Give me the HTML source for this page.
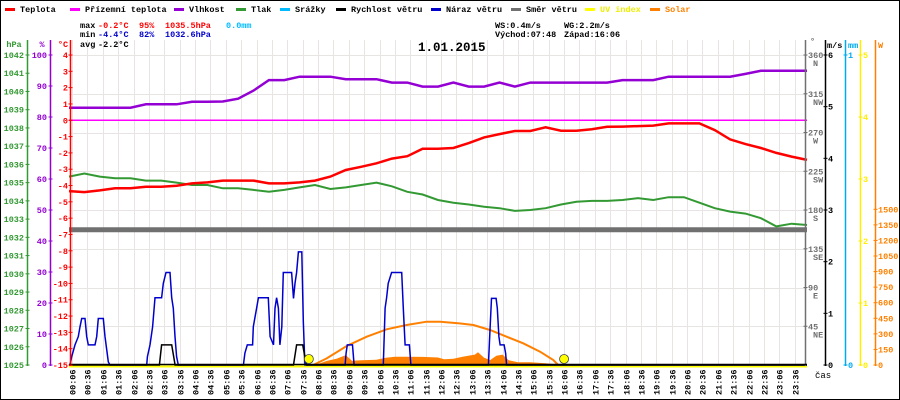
<!DOCTYPE html>
<html><head><meta charset="utf-8"><style>
html,body{margin:0;padding:0;background:#fff;}
svg{display:block;}
text{font-family:"Liberation Mono",monospace;}
</style></head><body>
<svg id="c" width="900" height="400" viewBox="0 0 900 400" xmlns="http://www.w3.org/2000/svg">
<rect x="0.5" y="0.5" width="899" height="399" fill="#fff" stroke="#000"/>
<g id="grid"></g>
<g id="series"></g>
<g id="axes"></g>
<g id="legend" font-size="8.5" font-weight="bold"></g>
<g font-size="8.5" font-weight="bold">
<text x="80" y="28" fill="#000">max</text><text x="98" y="28" fill="#f00">-0.2°C</text><text x="139" y="28" fill="#f00">95%</text><text x="165" y="28" fill="#f00">1035.5hPa</text><text x="226" y="28" fill="#0bf">0.0mm</text>
<text x="80" y="37" fill="#000">min</text><text x="98" y="37" fill="#00c">-4.4°C</text><text x="139" y="37" fill="#00c">82%</text><text x="165" y="37" fill="#00c">1032.6hPa</text>
<text x="80" y="47" fill="#000">avg</text><text x="98" y="47" fill="#000">-2.2°C</text>
<text x="495" y="28" fill="#000">WS:0.4m/s</text><text x="564" y="28" fill="#000">WG:2.2m/s</text>
<text x="495" y="37" fill="#000">Východ:07:48</text><text x="564" y="37" fill="#000">Západ:16:06</text>
</g>
<text x="418" y="51" font-size="12.5" font-weight="bold" fill="#000">1.01.2015</text>
<text x="815" y="378" font-size="9" fill="#000">čas</text>
</svg>
<script>
// half-hour series t = 0..24
const halfHours = [];
for (let i = 0; i <= 48; i++) halfHours.push(i / 2);
const temperature = [-4.34,-4.4,-4.3,-4.17,-4.17,-4.07,-4.07,-4.01,-3.87,-3.81,-3.7,-3.7,-3.7,-3.87,-3.87,-3.81,-3.7,-3.45,-3.05,-2.85,-2.64,-2.35,-2.2,-1.74,-1.74,-1.7,-1.4,-1.05,-0.85,-0.66,-0.66,-0.43,-0.64,-0.64,-0.55,-0.4,-0.39,-0.36,-0.33,-0.19,-0.19,-0.19,-0.6,-1.17,-1.46,-1.7,-2.0,-2.23,-2.43];
const apparentTemp = [0,0,0,0,0,0,0,0,0,0,0,0,0,0,0,0,0,0,0,0,0,0,0,0,0,0,0,0,0,0,0,0,0,0,0,0,0,0,0,0,0,0,0,0,0,0,0,0,0];
const humidity = [83,83,83,83,83,84.1,84.1,84.1,84.9,84.9,85,85.9,88.5,91.9,91.9,93,93,93,92.2,92.2,92.2,91.1,91.1,89.8,89.8,91.1,89.8,89.8,91.1,89.8,91.1,91.1,91.1,91.1,91.1,91.1,91.9,91.9,91.9,93,93,93,93,93,93.9,94.9,94.9,94.9,94.9];
const pressure = [1035.33,1035.5,1035.33,1035.24,1035.24,1035.11,1035.11,1035.0,1034.87,1034.87,1034.69,1034.69,1034.6,1034.5,1034.6,1034.74,1034.87,1034.65,1034.74,1034.87,1035.0,1034.8,1034.5,1034.35,1034.05,1033.9,1033.8,1033.68,1033.6,1033.45,1033.5,1033.6,1033.8,1033.95,1034.0,1034.0,1034.05,1034.15,1034.05,1034.2,1034.2,1033.9,1033.6,1033.41,1033.3,1033.05,1032.6,1032.75,1032.68];
const windDir = [157,157,157,157,157,157,157,157,157,157,157,157,157,157,157,157,157,157,157,157,157,157,157,157,157,157,157,157,157,157,157,157,157,157,157,157,157,157,157,157,157,157,157,157,157,157,157,157,157];
const gustTimes = [0,0.033,0.087,0.195,0.304,0.358,0.412,0.52,0.575,0.629,0.846,0.9,0.954,1.117,1.171,1.225,1.279,1.333,2.526,2.548,2.634,2.72,2.797,3.013,3.068,3.154,3.285,3.339,3.393,3.447,3.5,3.556,5.67,5.72,5.8,5.97,5.995,6.1,6.16,6.48,6.54,6.65,6.7,6.75,6.81,6.86,6.92,6.97,7.24,7.3,7.35,7.4,7.46,7.57,7.62,7.67,8.98,9.01,9.05,9.22,9.27,10.22,10.28,10.33,10.38,10.49,10.82,10.87,10.93,11.07,11.12,13.64,13.69,13.74,13.89,13.93,13.98,14.02,14.15,14.2,14.23,24];
const gustValues = [0,0,0.16,0.39,0.55,0.74,0.9,0.9,0.55,0.39,0.39,0.55,0.9,0.9,0.55,0.3,0.06,0,0,0.16,0.39,0.74,1.3,1.3,1.58,1.79,1.79,1.3,1.1,0.55,0.16,0,0,0.23,0.39,0.39,0.74,1.1,1.3,1.3,0.55,0.39,1.1,1.3,1.1,0.39,0.74,1.79,1.79,1.29,1.58,1.79,2.19,2.19,0.85,0,0,0.23,0.39,0.39,0,0,1.1,1.3,1.58,1.79,1.79,1.1,0.39,0.39,0,0,0.68,1.29,1.29,1.1,0.55,0.39,0.39,0.23,0,0];
const speedTimes = [0,2.94,3.01,3.34,3.45,7.3,7.4,7.6,7.67,7.73,24];
const speedValues = [0,0,0.39,0.39,0,0,0.39,0.39,0.16,0,0];
const solarTimes = [7.9,8.1,8.4,8.7,9.0,9.2,9.5,10.0,10.3,10.6,11.0,11.5,12.0,12.2,12.5,12.8,13.2,13.3,13.5,13.7,13.9,14.1,14.3,14.6,15.0,15.5,15.9,16.0];
const solarValues = [0,10,40,60,95,40,45,50,70,80,80,78,72,55,60,80,100,122,70,48,90,100,45,26,26,16,5,0];
const solarMaxTimes = [7.8,7.94,8.38,9.03,9.68,10.33,10.98,11.63,12.07,12.7,13.15,13.69,14.23,14.77,15.32,15.75,15.91,16.1];
const solarMaxValues = [0,0,64,183,273,344,385,417,417,401,385,337,273,209,128,48,0,0];
const uvValues = [0,0,0,0,0,0,0,0,0,0,0,0,0,0,0,0,0,0,0,0,0,0,0,0,0,0,0,0,0,0,0,0,0,0,0,0,0,0,0,0,0,0,0,0,0,0,0,0,0];
const sunEvents = [7.8, 16.1];
const tickLabels = [];
for (let i = 0; i < 48; i++) { const m = i * 30 + 6; tickLabels.push(String(Math.floor(m/60)).padStart(2,'0') + ':' + String(m%60).padStart(2,'0')); }
const tempTicks = [4,3,2,1,0,-1,-2,-3,-4,-5,-6,-7,-8,-9,-10,-11,-12,-13,-14,-15];
const humTicks = [100,90,80,70,60,50,40,30,20,10,0];
const presTicks = [1042,1041,1040,1039,1038,1037,1036,1035,1034,1033,1032,1031,1030,1029,1028,1027,1026,1025];
const dirTicks = [360,315,270,225,180,135,90,45];
const dirNames = ['N','NW','W','SW','S','SE','E','NE'];
const msTicks = [6,5,4,3,2,1,0];
const uvTicks = [5,4,3,2,1,0];
const wTicks = [1500,1350,1200,1050,900,750,600,450,300,150,0];

const NS = 'http://www.w3.org/2000/svg';
const X0 = 69, X1 = 807, Y0 = 55, Y1 = 365;
const xT = t => X0 + t / 24 * (X1 - X0);
const yC = v => Y0 + (4 - v) / 19 * (Y1 - Y0);
const yH = v => Y1 - v / 100 * (Y1 - Y0);
const yP = v => Y0 + (1042 - v) / 17 * (Y1 - Y0);
const yD = v => Y1 - v / 360 * (Y1 - Y0);
const yM = v => Y1 - v / 6 * (Y1 - Y0);
const yU = v => Y1 - v / 5 * (Y1 - Y0);
const yW = v => Y1 - v * 0.1038;
function el(tag, attrs, parent) { const e = document.createElementNS(NS, tag); for (const k in attrs) e.setAttribute(k, attrs[k]); parent.appendChild(e); return e; }
const G = document.getElementById('grid'), S = document.getElementById('series'), A = document.getElementById('axes'), L = document.getElementById('legend');

// grid
for (let i = 0; i < 48; i++) {
  const x = Math.round(xT(i / 2 + 0.1)) + 0.5;
  const g = el('line', {x1:x, y1:40, x2:x, y2:Y1, stroke:'#e8e4e4', 'stroke-width':1}, G);
  
  
  const tx = el('text', {x:0, y:0, 'font-size':8.5, 'font-weight':'bold', fill:'#000', transform:`translate(${x+3},395) rotate(-90)`}, A);
  tx.textContent = tickLabels[i];
  
  
}
for (let k = 0; k <= 8; k++) {
  const y = Math.round(Y0 + k * (Y1 - Y0) / 8) + 0.5;
  const g = el('line', {x1:X0, y1:y, x2:X1, y2:y, stroke:'#e8e4e4', 'stroke-width':1}, G);
  
  
}

function poly(ts, vs, yf, color, w, name) {
  const pts = ts.map((t, i) => xT(t).toFixed(1) + ',' + yf(vs[i]).toFixed(1)).join(' ');
  const p = el('polyline', {points:pts, fill:'none', stroke:color, 'stroke-width':w, 'stroke-linejoin':'miter'}, S);
  
  
  return p;
}
// solar actual area
{
  let d = 'M' + xT(solarTimes[0]).toFixed(1) + ',' + Y1;
  solarTimes.forEach((t, i) => { d += ' L' + xT(t).toFixed(1) + ',' + yW(solarValues[i]).toFixed(1); });
  d += ' L' + xT(solarTimes[solarTimes.length-1]).toFixed(1) + ',' + Y1 + ' Z';
  const p = el('path', {d:d, fill:'#ff8000'}, S);
  
  
}
poly(solarMaxTimes, solarMaxValues, yW, '#ff8000', 2, 'solar-max-line');
poly(halfHours, windDir, yD, '#707070', 5, 'wind-direction-line');
poly(halfHours, apparentTemp, yC, '#ff00ff', 1.5, 'apparent-temperature-line');
poly(halfHours, humidity, yH, '#9400d3', 2.5, 'humidity-line');
poly(halfHours, pressure, yP, '#339933', 2, 'pressure-line');
poly(halfHours, temperature, yC, '#ff0000', 2.5, 'temperature-line');
poly(halfHours, uvValues, yU, '#ffff00', 2, 'uv-index-line').setAttribute('transform', 'translate(0,1.5)');
poly(gustTimes, gustValues, yM, '#0000cc', 1.5, 'wind-gust-line');
poly(speedTimes, speedValues, yM, '#000000', 1.5, 'wind-speed-line');
sunEvents.forEach(t => {
  const c = el('circle', {cx:xT(t), cy:Y1 - 6, r:4.5, fill:'#ffff00', stroke:'#444', 'stroke-width':0.8}, S);
  
  
});

// axes
function axis(x, y1, y2, color, name) {
  const a = el('line', {x1:x, y1:y1, x2:x, y2:y2, stroke:color, 'stroke-width':1.5}, A);
  
  
}
function tickLabel(x, y, txt, color, anchor, name) {
  const t = el('text', {x:x, y:y, fill:color, 'font-size':8.5, 'font-weight':'bold', 'text-anchor':anchor}, A);
  t.textContent = txt;
  
  
}
function tick(x, y, len, color) { el('line', {x1:x - len, y1:y, x2:x + len, y2:y, stroke:color, 'stroke-width':1}, A); }
axis(27.5, 40, 366, '#339933', 'pressure-axis');
axis(50.5, 40, 366, '#9400d3', 'humidity-axis');
axis(70.5, 40, 366, '#ff0000', 'temperature-axis');
axis(805.5, 40, 366, '#707070', 'direction-axis');
axis(825.5, 40, 366, '#000000', 'wind-speed-axis');
axis(845.5, 40, 366, '#00aaee', 'rain-axis');
axis(860.5, 40, 366, '#ffee00', 'uv-axis');
axis(875.5, 40, 366, '#ff8000', 'solar-axis');
el('line', {x1:X0, y1:Y1 - 0.5, x2:X1, y2:Y1 - 0.5, stroke:'#000', 'stroke-width':1.5}, A);
tickLabel(14, 47, 'hPa', '#339933', 'middle', 'pressure-axis-title');
tickLabel(42, 47, '%', '#9400d3', 'middle', 'humidity-axis-title');
tickLabel(63, 47, '°C', '#ff0000', 'middle', 'temperature-axis-title');
tickLabel(810, 44, '°', '#707070', 'start', 'direction-axis-title');
tickLabel(827, 48, 'm/s', '#000', 'start', 'wind-speed-axis-title');
tickLabel(848, 48, 'mm', '#00aaee', 'start', 'rain-axis-title');
tickLabel(878, 48, 'W', '#ff8000', 'start', 'solar-axis-title');
presTicks.forEach(v => { const y = yP(v); tick(27.5, y, 2, '#339933'); tickLabel(24, y + 3, String(v), '#339933', 'end', 'pressure-tick'); });
humTicks.forEach(v => { const y = yH(v); tick(50.5, y, 2, '#9400d3'); tickLabel(47, y + 3, String(v), '#9400d3', 'end', 'humidity-tick'); });
tempTicks.forEach(v => { const y = yC(v); tick(70.5, y, 2, '#ff0000'); tickLabel(68, y + 3, String(v), '#ff0000', 'end', 'temperature-tick'); });
dirTicks.forEach((v, i) => { const y = yD(v); tick(805.5, y, 2, '#707070'); tickLabel(808, y + 3, String(v), '#707070', 'start', 'direction-tick'); tickLabel(813, y + 11, dirNames[i], '#707070', 'start', 'direction-name'); });
msTicks.forEach(v => { const y = yM(v); tick(825.5, y, 2, '#000'); tickLabel(828, y + 3, String(v), '#000', 'start', 'wind-speed-tick'); });
[1, 0].forEach(v => { const y = v ? Y0 : Y1; tick(845.5, y, 2, '#00aaee'); tickLabel(848, y + 3, String(v), '#00aaee', 'start', 'rain-tick'); });
uvTicks.forEach(v => { const y = yU(v); tick(860.5, y, 2, '#ffee00'); tickLabel(863, y + 3, String(v), '#ffee00', 'start', 'uv-tick'); });
wTicks.forEach(v => { const y = yW(v); tick(875.5, y, 2, '#ff8000'); tickLabel(878, y + 3, String(v), '#ff8000', 'start', 'solar-tick'); });

// legend
const legendNames = ['Teplota','Přízemní teplota','Vlhkost','Tlak','Srážky','Rychlost větru','Náraz větru','Směr větru','UV index','Solar'];
const legendColors = ['#ff0000','#ff00ff','#9400d3','#339933','#00bbff','#000000','#0000cc','#707070','#ffff00','#ff8000'];
const legendX = [5,70,174,236,280,336,431,511,585,650];
legendNames.forEach((n, i) => {
  const g = el('g', {}, L);
  
  
  el('rect', {x:legendX[i], y:8, width:10, height:3, fill:legendColors[i]}, g);
  const t = el('text', {x:legendX[i] + 15, y:12, fill: i === 8 ? '#eeee00' : (i === 9 ? '#ff8000' : '#000')}, g);
  t.textContent = n;
});
</script>
</body></html>
